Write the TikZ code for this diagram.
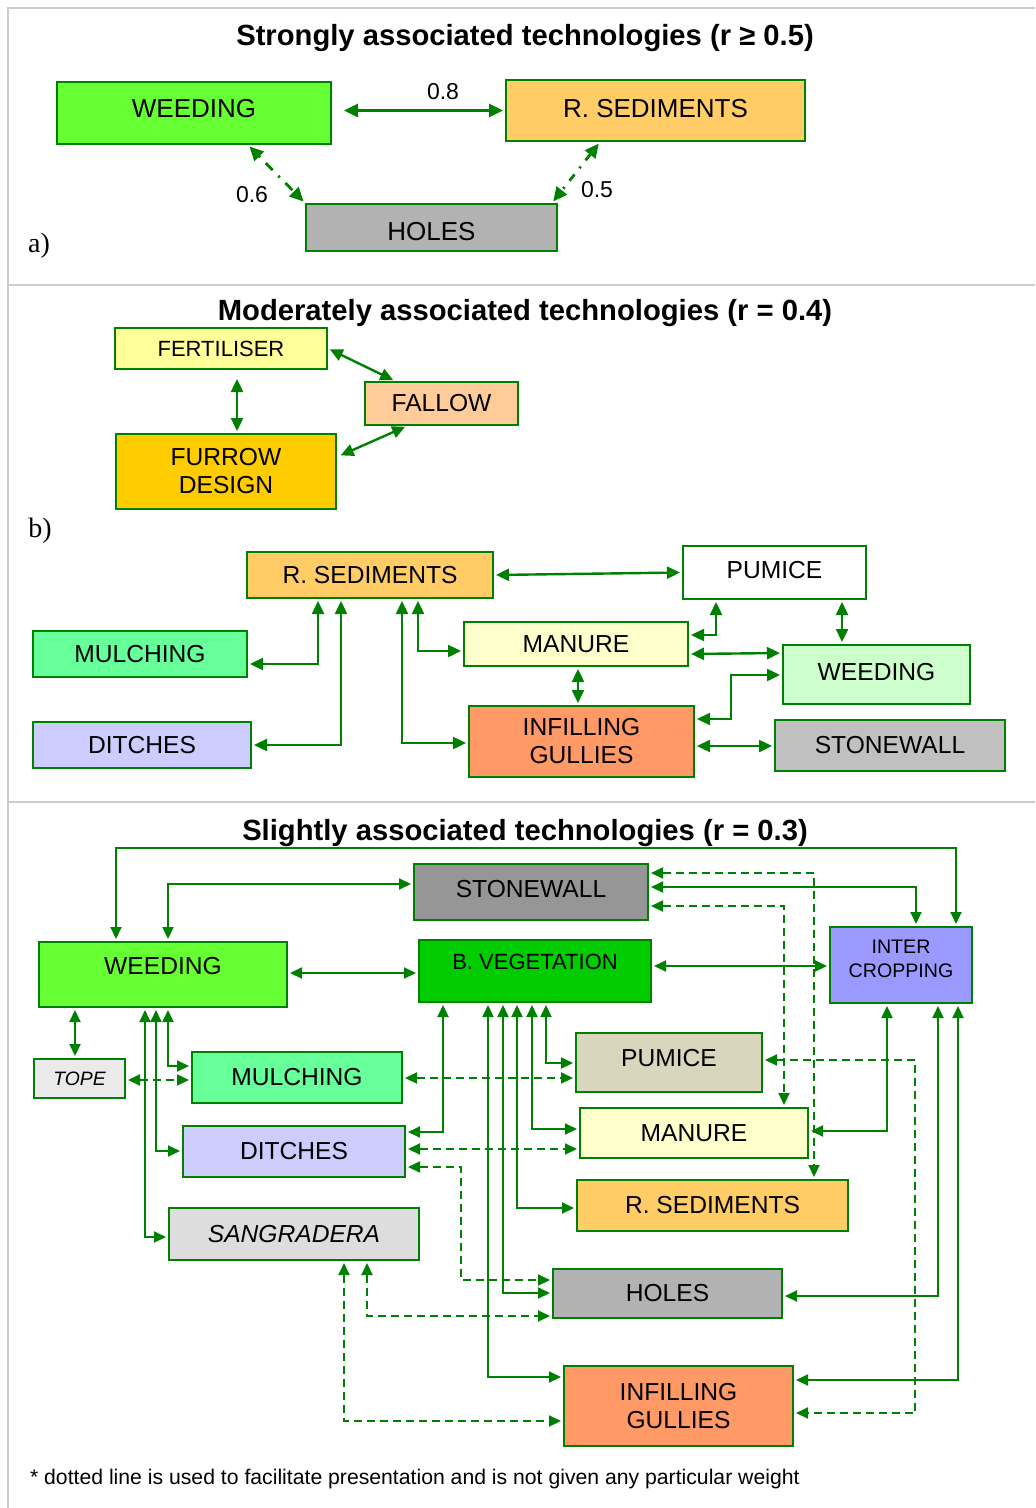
\documentclass[tikz,border=0pt]{standalone}
\usepackage{fontspec}
\setmainfont{Liberation Sans}
\newfontfamily\timesfont{Liberation Serif}
\usetikzlibrary{arrows.meta}
\definecolor{lnk}{RGB}{0,128,0}
\definecolor{rule}{RGB}{205,205,205}
\definecolor{weedA}{RGB}{102,255,51}
\definecolor{weedB}{RGB}{204,255,204}
\definecolor{rsed}{RGB}{255,204,102}
\definecolor{holes}{RGB}{178,178,178}
\definecolor{fert}{RGB}{255,255,153}
\definecolor{fallow}{RGB}{255,204,153}
\definecolor{furrow}{RGB}{255,204,0}
\definecolor{mulch}{RGB}{102,255,153}
\definecolor{ditch}{RGB}{204,204,255}
\definecolor{manure}{RGB}{255,255,204}
\definecolor{infill}{RGB}{255,153,102}
\definecolor{stoneB}{RGB}{192,192,192}
\definecolor{stoneC}{RGB}{150,150,150}
\definecolor{bveg}{RGB}{0,204,0}
\definecolor{inter}{RGB}{153,153,255}
\definecolor{tope}{RGB}{234,234,234}
\definecolor{pumC}{RGB}{216,215,190}
\definecolor{sangr}{RGB}{221,221,221}
\begin{document}
\begin{tikzpicture}[x=0.5pt,y=-0.5pt,
  tech/.style={draw=lnk,line width=1pt,inner sep=0pt,align=center,font=\fontsize{12.3}{14}\selectfont},
  sz/.style 2 args={minimum width=#1*0.5pt,minimum height=#2*0.5pt},
  both/.style={draw=lnk,line width=1pt,{Triangle[length=6pt,width=5.5pt]}-{Triangle[length=6pt,width=5.5pt]},shorten <=1pt,shorten >=1pt},
  mid/.style={both,line width=1.2pt,{Triangle[length=6.5pt,width=6pt]}-{Triangle[length=6.5pt,width=6pt]}},
  big/.style={both,line width=1.4pt,{Triangle[length=7pt,width=6.5pt]}-{Triangle[length=7pt,width=6.5pt]}},
  dsh/.style={both,dash pattern=on 4pt off 2.5pt},
  head/.style={font=\bfseries\fontsize{14.6}{17}\selectfont},
  wt/.style={font=\fontsize{11.5}{13}\selectfont},
  part/.style={font=\timesfont\fontsize{14}{16}\selectfont}]
  \useasboundingbox (0,0) rectangle (1035,1508);
  \draw[rule,line width=0.8pt] (8,1508) -- (8,8) -- (1035,8) (8,285) -- (1035,285) (8,802) -- (1035,802);

  \node[head] (tA) at (525,38) {Strongly associated technologies (r ≥ 0.5)};
  \node[tech,sz={274}{62},fill=weedA,text depth=5pt,font=\fontsize{13}{15}\selectfont] (aWd) at (194,113) {WEEDING};
  \node[tech,sz={299}{61},fill=rsed,text depth=2.5pt,font=\fontsize{13}{15}\selectfont] (aRs) at (655.5,110.5) {R. SEDIMENTS};
  \node[tech,sz={251}{47},fill=holes,text height=13pt,font=\fontsize{13}{15}\selectfont] (aHo) at (431.5,227.5) {HOLES};
  \draw[big,shorten <=6pt] (aWd.east |- aRs.west) -- (aRs.west);
  \draw[big,dash pattern=on 1pt off 4pt on 5pt off 4pt] (aWd.south -| 248,0) -- (aHo.north west);
  \draw[big,dash pattern=on 4pt off 4pt on 1pt off 4pt] (aRs.south -| 600,0) -- (aHo.north -| 552,0);
  \node[wt] (w08) at (443,92) {0.8};
  \node[wt] (w06) at (252,195) {0.6};
  \node[wt] (w05) at (597,190) {0.5};
  \node[part] (pa) at (39,246) {a)};

  \node[head] (tB) at (525,313) {Moderately associated technologies (r = 0.4)};
  \node[tech,sz={212}{41},fill=fert,font=\fontsize{11}{13}\selectfont] (bFe) at (221,348.5) {FERTILISER};
  \node[tech,sz={153}{43},fill=fallow] (bFa) at (441.5,403.5) {FALLOW};
  \node[tech,sz={220}{75},fill=furrow] (bFu) at (226,471.5) {FURROW\\DESIGN};
  \draw[mid] (bFe.east) -- (bFa.north -| 395,0);
  \draw[mid,shorten <=4.5pt] (bFe.south -| 237,0) -- (bFu.north -| 237,0);
  \draw[mid,shorten >=2pt] (bFa.south -| 407,0) -- (bFu.east |- 0,457);
  \node[part] (pb) at (40,531) {b)};

  \node[tech,sz={246}{46},fill=rsed] (bRs) at (370,575) {R. SEDIMENTS};
  \node[tech,sz={183}{53},fill=white,text depth=3pt] (bPu) at (774.5,572.5) {PUMICE};
  \node[tech,sz={214}{46},fill=mulch] (bMu) at (140,654) {MULCHING};
  \node[tech,sz={218}{46},fill=ditch] (bDi) at (142,745) {DITCHES};
  \node[tech,sz={224}{44},fill=manure] (bMa) at (576,644) {MANURE};
  \node[tech,sz={187}{59},fill=weedB,text depth=3pt] (bWd) at (876.5,674.5) {WEEDING};
  \node[tech,sz={225}{71},fill=infill] (bIn) at (581.5,741.5) {INFILLING\\GULLIES};
  \node[tech,sz={230}{51},fill=stoneB] (bSt) at (890,745.5) {STONEWALL};
  \draw[mid] (bRs.east) -- (bPu.west);
  \draw[mid] (bRs.south -| 318,0) |- (bMu.east |- 0,664);
  \draw[mid] (bRs.south -| 341,0) |- (bDi.east);
  \draw[mid] (bRs.south -| 402,0) |- (bIn.west |- 0,743);
  \draw[mid] (bRs.south -| 418,0) |- (bMa.west |- 0,651);
  \draw[mid] (bPu.south -| 716,0) |- (bMa.east |- 0,635);
  \draw[mid] (bPu.south -| 842,0) -- (bWd.north -| 842,0);
  \draw[mid] (bMa.east |- 0,654) -- (bWd.west |- 0,653);
  \draw[mid] (bMa.south -| 578,0) -- (bIn.north -| 578,0);
  \draw[mid] (bIn.east |- 0,719) -| (731,675) -- (bWd.west |- 0,675);
  \draw[mid] (bIn.east |- 0,746) -- (bSt.west |- 0,746);

  \node[head] (tC) at (525,833) {Slightly associated technologies (r = 0.3)};
  \node[tech,sz={234}{56},fill=stoneC,text depth=3pt] (cSt) at (531,892) {STONEWALL};
  \node[tech,sz={248}{65},fill=weedA,text depth=8.5pt] (cWd) at (163,974.5) {WEEDING};
  \node[tech,sz={232}{62},fill=bveg,text depth=9pt,font=\fontsize{11}{13}\selectfont] (cBv) at (535,971) {B. VEGETATION};
  \node[tech,sz={142}{76},fill=inter,text depth=6pt,font=\fontsize{9.8}{12}\selectfont] (cIc) at (901,965) {INTER\\CROPPING};
  \node[tech,sz={91}{39},fill=tope,font=\itshape\fontsize{9.7}{12}\selectfont] (cTo) at (79.5,1078.5) {TOPE};
  \node[tech,sz={210}{51},fill=mulch] (cMu) at (297,1077.5) {MULCHING};
  \node[tech,sz={186}{59},fill=pumC,text depth=5pt] (cPu) at (669,1062.5) {PUMICE};
  \node[tech,sz={222}{51},fill=ditch] (cDi) at (294,1151.5) {DITCHES};
  \node[tech,sz={228}{50},fill=manure] (cMa) at (694,1133) {MANURE};
  \node[tech,sz={271}{51},fill=rsed] (cRs) at (712.5,1205.5) {R. SEDIMENTS};
  \node[tech,sz={250}{52},fill=sangr,font=\itshape\fontsize{12.3}{14}\selectfont] (cSa) at (294,1234) {SANGRADERA};
  \node[tech,sz={229}{49},fill=holes] (cHo) at (667.5,1293.5) {HOLES};
  \node[tech,sz={229}{80},fill=infill] (cIn) at (678.5,1406) {INFILLING\\GULLIES};

  \draw[both] (cWd.north -| 116,0) |- (956,848) -- (cIc.north -| 956,0);
  \draw[both] (cWd.north -| 168,0) |- (cSt.west |- 0,884);
  \draw[both] (cSt.east |- 0,887) -| (cIc.north -| 916,0);
  \draw[both] (cWd.east |- 0,973) -- (cBv.west |- 0,973);
  \draw[both] (cBv.east |- 0,966) -- (cIc.west |- 0,966);
  \draw[both] (cWd.south -| 75,0) -- (cTo.north -| 75,0);
  \draw[both] (cWd.south -| 168,0) |- (cMu.west |- 0,1066);
  \draw[both] (cWd.south -| 156,0) |- (cDi.west |- 0,1151);
  \draw[both] (cWd.south -| 145,0) |- (cSa.west |- 0,1237);
  \draw[both] (cBv.south -| 443,0) |- (cDi.east |- 0,1132);
  \draw[both] (cBv.south -| 546,0) |- (cPu.west |- 0,1063);
  \draw[both] (cBv.south -| 532,0) |- (cMa.west |- 0,1129);
  \draw[both] (cBv.south -| 517,0) |- (cRs.west |- 0,1208);
  \draw[both] (cBv.south -| 503,0) |- (cHo.west |- 0,1293);
  \draw[both] (cBv.south -| 488,0) |- (cIn.west |- 0,1377);
  \draw[both] (cIc.south -| 887,0) |- (cMa.east |- 0,1131);
  \draw[both] (cIc.south -| 938,0) |- (cHo.east |- 0,1296);
  \draw[both] (cIc.south -| 958,0) |- (cIn.east |- 0,1380);

  \draw[dsh] (cSt.east |- 0,873) -| (cRs.north -| 814,0);
  \draw[dsh] (cSt.east |- 0,906) -| (cMa.north -| 784,0);
  \draw[dsh] (cTo.east |- 0,1080) -- (cMu.west |- 0,1080);
  \draw[dsh] (cMu.east |- 0,1078) -- (cPu.west |- 0,1078);
  \draw[dsh] (cDi.east |- 0,1149) -- (cMa.west |- 0,1149);
  \draw[dsh] (cDi.east |- 0,1167) -| (461,1280) -- (cHo.west |- 0,1280);
  \draw[dsh] (cPu.east |- 0,1060) -| (915,1413) -- (cIn.east |- 0,1413);
  \draw[dsh] (cSa.south -| 367,0) |- (cHo.west |- 0,1316);
  \draw[dsh] (cSa.south -| 344,0) |- (cIn.west |- 0,1421);

  \node[anchor=west,font=\fontsize{10.6}{12}\selectfont] (note) at (23,1479) {* dotted line is used to facilitate presentation and is not given any particular weight};
\end{tikzpicture}
\end{document}
